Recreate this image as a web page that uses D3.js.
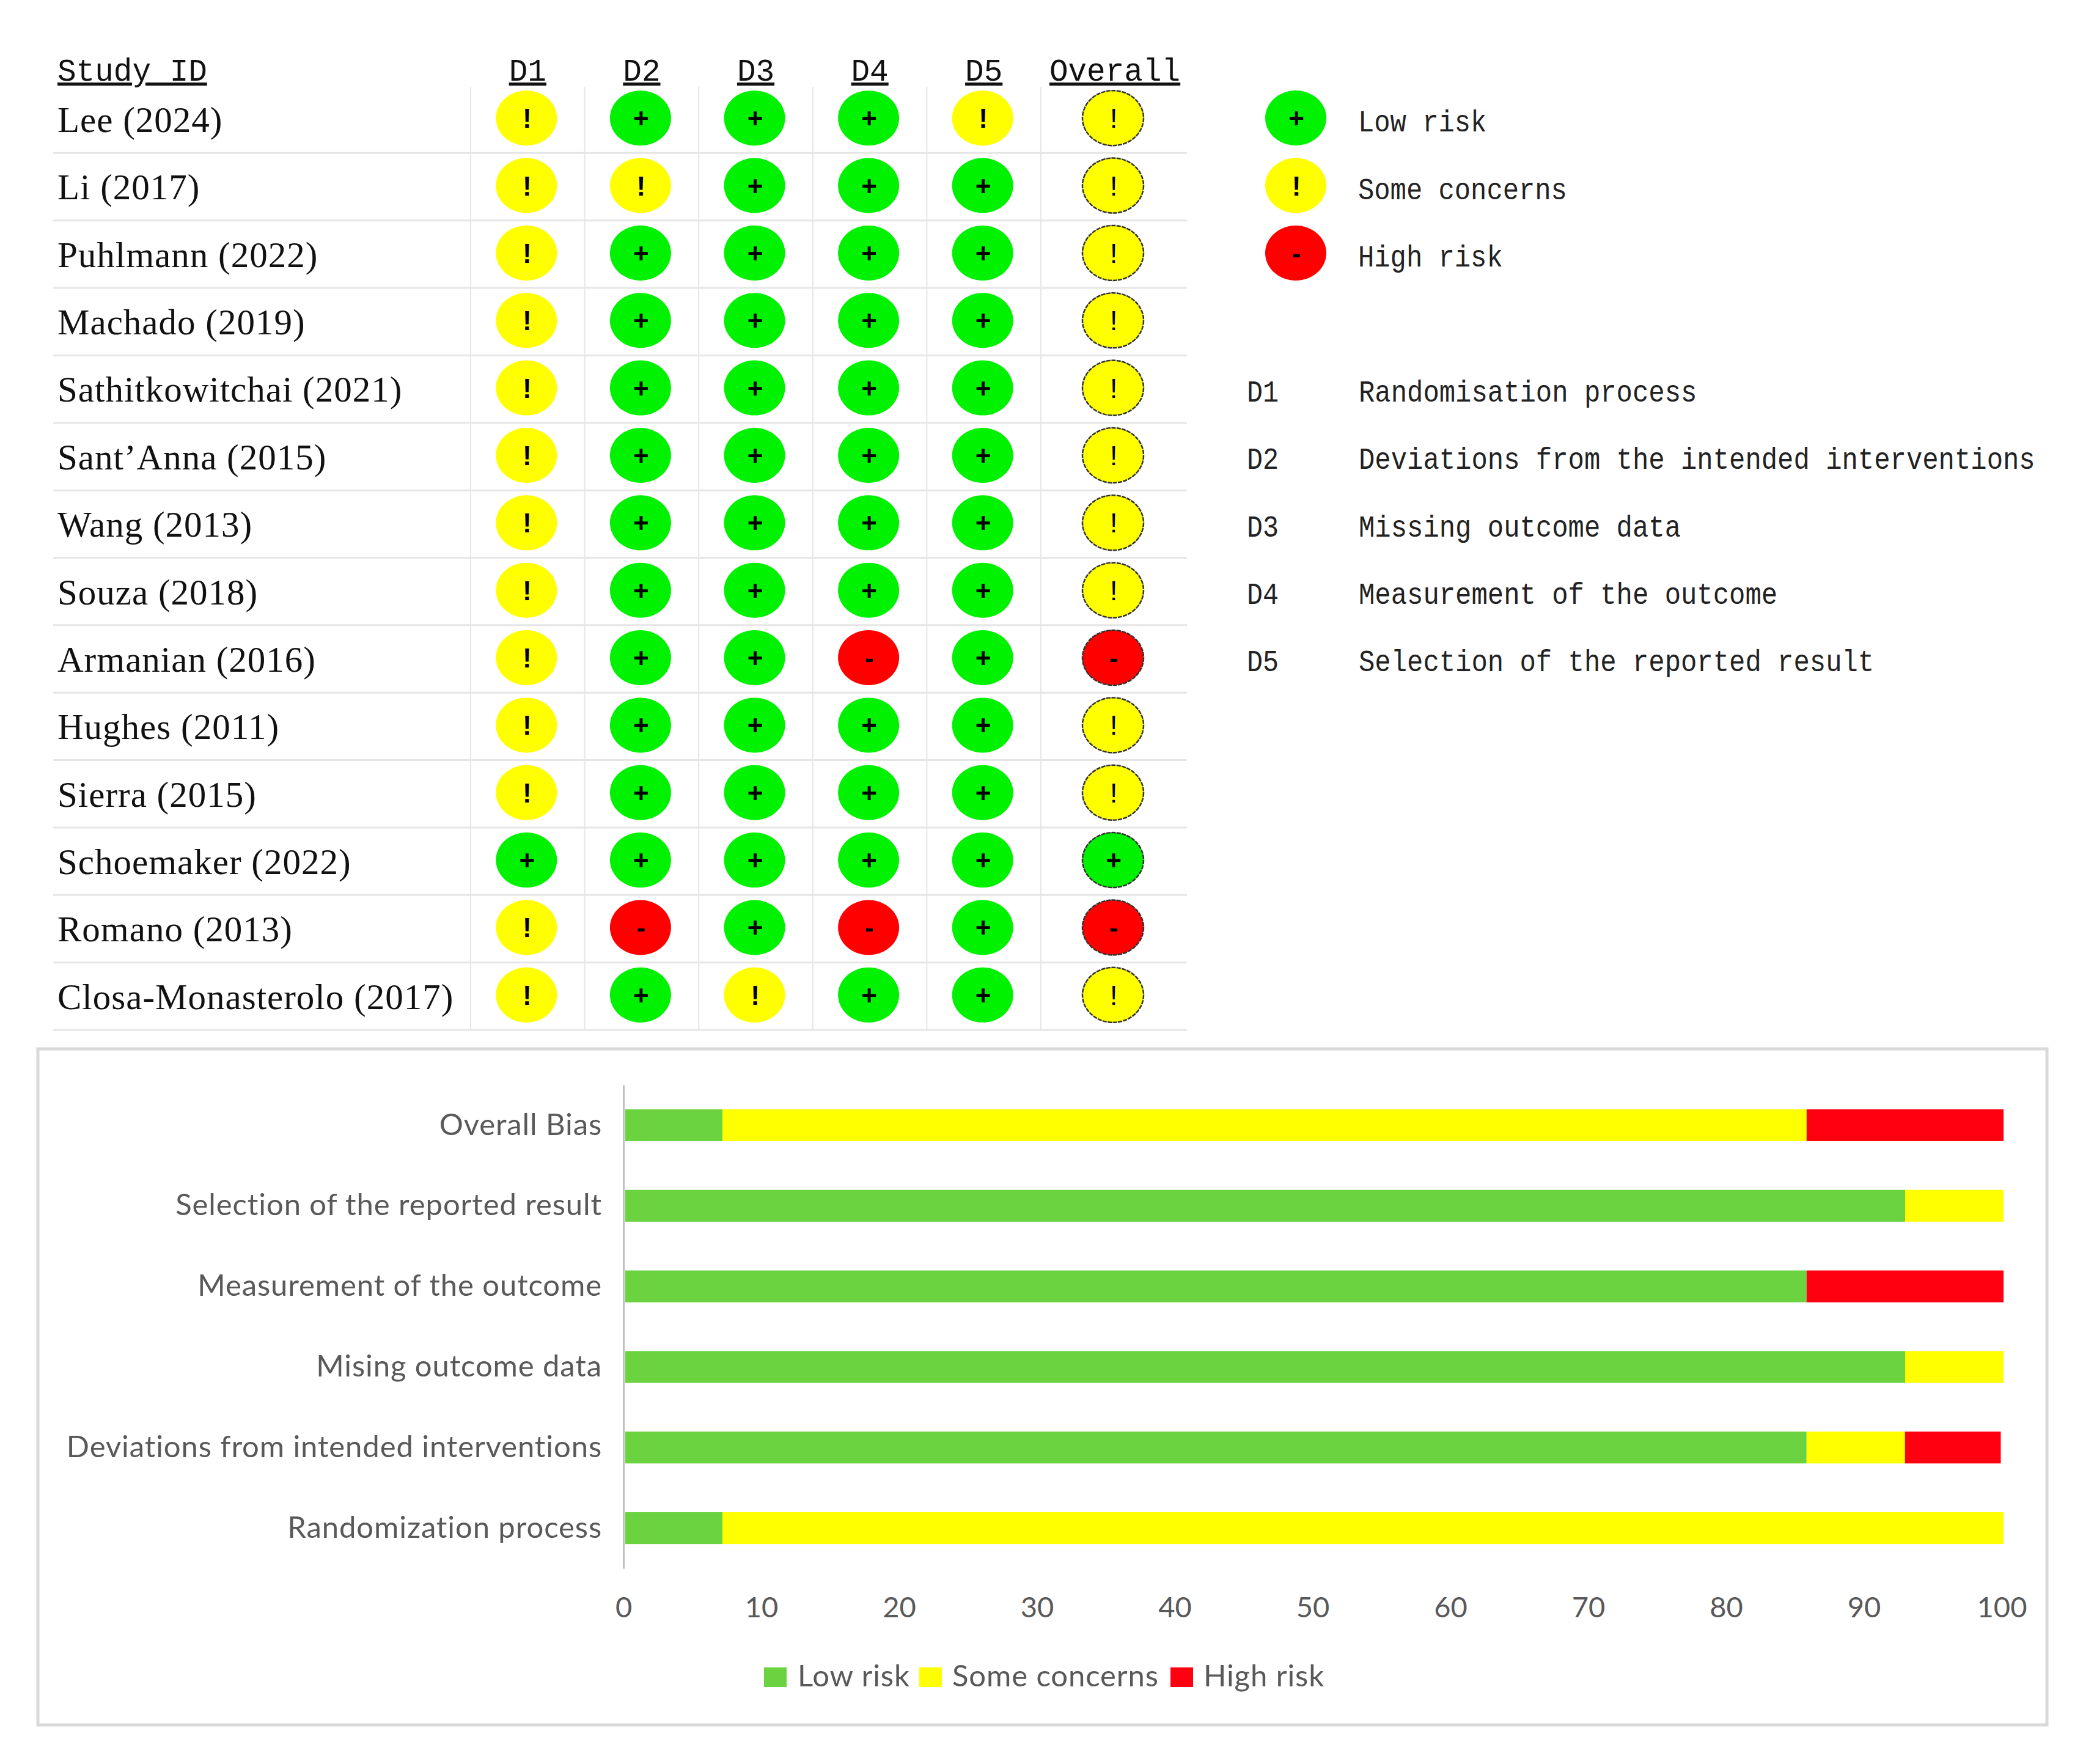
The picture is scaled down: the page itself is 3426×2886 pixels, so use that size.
<!DOCTYPE html>
<html>
<head>
<meta charset="utf-8">
<script src="https://cdn.jsdelivr.net/npm/d3@7"></script>
<style>
  html, body { margin: 0; background: #fff; }
  svg { display: block; }
</style>
</head>
<body>
<div id="chart"></div>
<script>
// traffic light table
const studies = ["Lee (2024)", "Li (2017)", "Puhlmann (2022)", "Machado (2019)", "Sathitkowitchai (2021)",
  "Sant\u2019Anna (2015)", "Wang (2013)", "Souza (2018)", "Armanian (2016)", "Hughes (2011)",
  "Sierra (2015)", "Schoemaker (2022)", "Romano (2013)", "Closa-Monasterolo (2017)"];
const domains = ["D1", "D2", "D3", "D4", "D5"];
// L = low, S = some concerns, H = high, one entry per study
const d1 = ["S","S","S","S","S","S","S","S","S","S","S","L","S","S"];
const d2 = ["L","S","L","L","L","L","L","L","L","L","L","L","H","L"];
const d3v = ["L","L","L","L","L","L","L","L","L","L","L","L","L","S"];
const d4 = ["L","L","L","L","L","L","L","L","H","L","L","L","H","L"];
const d5 = ["S","L","L","L","L","L","L","L","L","L","L","L","L","L"];
const overall = ["S","S","S","S","S","S","S","S","H","S","S","L","H","S"];
const judgements = [d1, d2, d3v, d4, d5];

const riskKeys = ["L", "S", "H"];
const riskNames = ["Low risk", "Some concerns", "High risk"];
const domainNames = ["Randomisation process", "Deviations from the intended interventions",
  "Missing outcome data", "Measurement of the outcome", "Selection of the reported result"];

// stacked bars, percent of studies
const barCategories = ["Overall Bias", "Selection of the reported result", "Measurement of the outcome",
  "Mising outcome data", "Deviations from intended interventions", "Randomization process"];
const lowValues = [7.05, 92.86, 85.71, 92.86, 85.71, 7.05];
const someValues = [78.66, 7.14, 0, 7.14, 7.14, 92.95];
const highValues = [14.29, 0, 14.29, 0, 6.95, 0];
const xTicks = [0, 10, 20, 30, 40, 50, 60, 70, 80, 90, 100];

const svg = d3.select("#chart").append("svg")
  .attr("width", 3426)
  .attr("height", 2886);

const lightFill = d3.scaleOrdinal(riskKeys, ["#00f200", "#ffff00", "#ff0000"]);
const lightSign = d3.scaleOrdinal(riskKeys, ["+", "!", "-"]);
const barFill = d3.scaleOrdinal(riskNames, ["#6bd33f", "#ffff00", "#ff0010"]);

const monoFont = "'Liberation Mono', monospace";
const serifFont = "'Liberation Serif', serif";
const signFont = "'Liberation Sans', sans-serif";
const labelFont = "Lato, sans-serif";

// table scales
const rowY = d3.scaleBand().domain(studies).range([140, 1685]);
const colX = d3.scaleBand().domain(domains).range([770, 1703]);
const overallX = 1821;
const tableRight = 1942;
const table = svg.append("g");

// grid
table.selectAll("line.row").data(studies).enter().append("line")
  .attr("class", "row")
  .attr("x1", 87).attr("x2", tableRight)
  .attr("y1", d => rowY(d) + rowY.bandwidth())
  .attr("y2", d => rowY(d) + rowY.bandwidth())
  .attr("stroke", "#e6e6e6").attr("stroke-width", 3);

table.selectAll("line.col").data(domains.concat("end")).enter().append("line")
  .attr("class", "col")
  .attr("x1", d => d === "end" ? colX.range()[1] : colX(d))
  .attr("x2", d => d === "end" ? colX.range()[1] : colX(d))
  .attr("y1", 142).attr("y2", 1685)
  .attr("stroke", "#e6e6e6").attr("stroke-width", 2);

// headers
function header(label, x, anchor) {
  table.append("text")
    .text(label)
    .attr("x", x).attr("y", 132)
    .attr("text-anchor", anchor)
    .attr("font-family", monoFont)
    .attr("font-size", 51)
    .attr("text-decoration", "underline")
    .attr("fill", "#111");
}
header("Study ID", 94, "start");
domains.forEach(d => header(d, colX(d) + colX.bandwidth() / 2, "middle"));
header("Overall", overallX + 3, "middle");

// study names
table.selectAll("text.study").data(studies).enter().append("text")
  .attr("class", "study")
  .text(d => d)
  .attr("x", 94)
  .attr("y", d => rowY(d) + 76)
  .attr("font-family", serifFont)
  .attr("font-size", 59)
  .attr("letter-spacing", 1)
  .attr("fill", "#111");

function light(parent, cx, cy, risk, outlined) {
  parent.append("ellipse")
    .attr("cx", cx).attr("cy", cy)
    .attr("rx", 50).attr("ry", 45)
    .attr("fill", lightFill(risk))
    .attr("stroke", outlined ? "#333" : "none")
    .attr("stroke-width", outlined ? 2.5 : 0)
    .attr("stroke-dasharray", outlined ? "7 1.5" : null);
  parent.append("text")
    .text(lightSign(risk))
    .attr("x", cx + 1).attr("y", cy + 16)
    .attr("text-anchor", "middle")
    .attr("font-family", signFont)
    .attr("font-weight", outlined && risk === "S" ? "normal" : "bold")
    .attr("font-size", 44)
    .attr("fill", "#000");
}

judgements.forEach((col, j) => {
  col.forEach((risk, i) => {
    light(table, colX(domains[j]) + colX.bandwidth() / 2 - 2, rowY(studies[i]) + rowY.bandwidth() / 2 - 2, risk, false);
  });
});
overall.forEach((risk, i) => {
  light(table, overallX, rowY(studies[i]) + rowY.bandwidth() / 2 - 2, risk, true);
});

// keys on the right
const keyY = d3.scalePoint().domain(riskNames).range([193, 414]);
riskNames.forEach((name, i) => {
  light(svg, 2120, keyY(name), riskKeys[i], false);
  svg.append("text")
    .text(name)
    .attr("x", 2222).attr("y", keyY(name) + 22)
    .attr("font-family", monoFont)
    .attr("font-size", 50)
    .attr("textLength", name.length * 26.3)
    .attr("lengthAdjust", "spacingAndGlyphs")
    .attr("fill", "#222");
});

const defY = d3.scalePoint().domain(domains).range([657, 1098]);
domains.forEach((d, i) => {
  svg.append("text")
    .text(d)
    .attr("x", 2040).attr("y", defY(d))
    .attr("font-family", monoFont)
    .attr("font-size", 50)
    .attr("textLength", 52)
    .attr("lengthAdjust", "spacingAndGlyphs")
    .attr("fill", "#222");
  svg.append("text")
    .text(domainNames[i])
    .attr("x", 2223).attr("y", defY(d))
    .attr("font-family", monoFont)
    .attr("font-size", 50)
    .attr("textLength", domainNames[i].length * 26.35)
    .attr("lengthAdjust", "spacingAndGlyphs")
    .attr("fill", "#222");
});

// bar chart panel
svg.append("rect")
  .attr("x", 62).attr("y", 1716)
  .attr("width", 3287).attr("height", 1106)
  .attr("fill", "#fff")
  .attr("stroke", "#d9d9d9")
  .attr("stroke-width", 5);

const x = d3.scaleLinear().domain([0, 100]).range([1023, 3278]);
const y = d3.scaleBand().domain(barCategories).range([1775, 2566])
  .paddingInner(0.605).paddingOuter(0.3025);

const rows = barCategories.map((c, i) => ({
  category: c,
  "Low risk": lowValues[i],
  "Some concerns": someValues[i],
  "High risk": highValues[i]
}));
const series = d3.stack().keys(riskNames)(rows);

svg.append("g").selectAll("g").data(series).enter().append("g")
  .attr("fill", d => barFill(d.key))
  .selectAll("rect").data(d => d).enter().append("rect")
  .attr("x", d => x(d[0]))
  .attr("y", d => y(d.data.category))
  .attr("width", d => x(d[1]) - x(d[0]))
  .attr("height", y.bandwidth());

const yAxis = svg.append("g")
  .attr("transform", "translate(1020,0)")
  .call(d3.axisLeft(y).tickSize(0).tickPadding(35));
yAxis.select(".domain").attr("stroke", "#bfbfbf").attr("stroke-width", 3);
yAxis.selectAll("text")
  .attr("font-family", labelFont)
  .attr("font-size", 49)
  .attr("letter-spacing", 0.9)
  .attr("fill", "#595959");

const xAxis = svg.append("g")
  .attr("transform", "translate(-3,2646)")
  .call(d3.axisBottom(x).tickValues(xTicks).tickSize(0).tickFormat(d3.format("d")));
xAxis.select(".domain").remove();
xAxis.selectAll("text")
  .attr("y", 0).attr("dy", 0)
  .attr("font-family", labelFont)
  .attr("font-size", 47)
  .attr("fill", "#595959");

// bottom legend
const swatchX = [1250, 1504, 1915];
const swatchText = [1305, 1558, 1969];
riskNames.forEach((name, i) => {
  svg.append("rect")
    .attr("x", swatchX[i]).attr("y", 2728)
    .attr("width", 37).attr("height", 32)
    .attr("fill", barFill(name));
  svg.append("text")
    .text(name)
    .attr("x", swatchText[i]).attr("y", 2759)
    .attr("font-family", labelFont)
    .attr("font-size", 49)
    .attr("letter-spacing", 0.9)
    .attr("fill", "#595959");
});
</script>
</body>
</html>
